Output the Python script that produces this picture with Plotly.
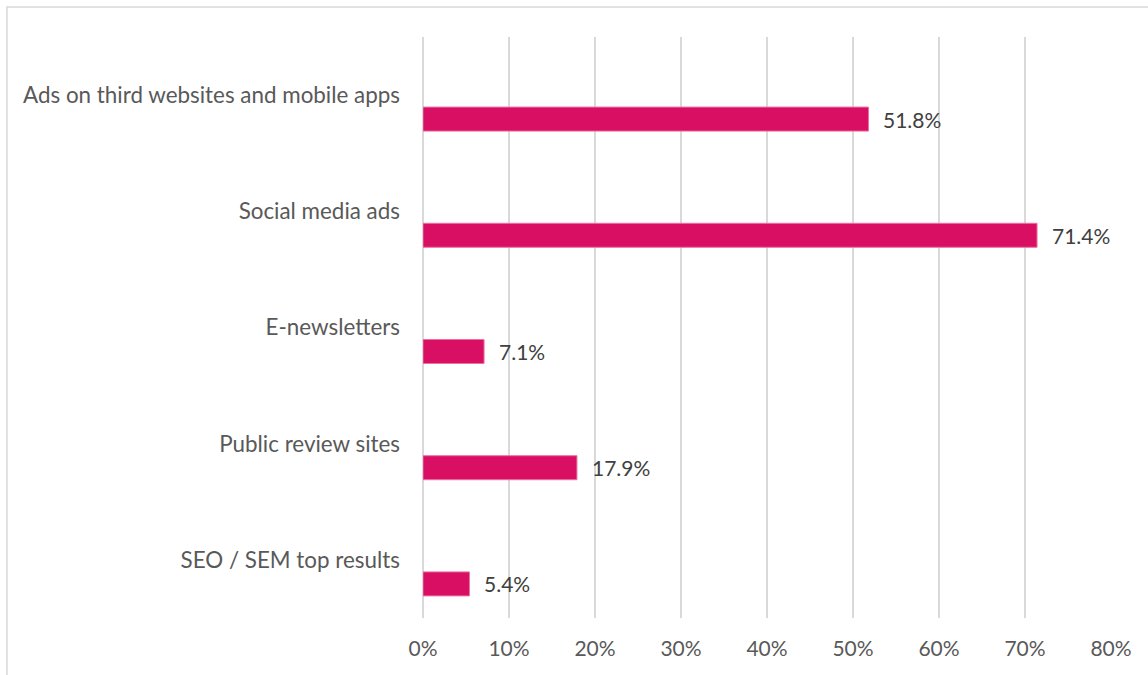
import plotly.graph_objects as go

# Channels and share of respondents
categories = [
    "Ads on third websites and mobile apps",
    "Social media ads",
    "E-newsletters",
    "Public review sites",
    "SEO / SEM top results",
]
shares = [0.518, 0.714, 0.071, 0.179, 0.054]
x_ticks = [0, 0.1, 0.2, 0.3, 0.4, 0.5, 0.6, 0.7, 0.8]
x_tick_labels = ["0%", "10%", "20%", "30%", "40%", "50%", "60%", "70%", "80%"]

BAR_COLOR = "#D80F63"
GRID = "#D9D9D9"
FONT = "Lato"
SIZE = 22.4

# bars sit just below each category centre (clustered-bar look)
bar_width = 0.2065
bar_pos = [i + bar_width for i in range(len(categories))]

fig = go.Figure()
fig.add_trace(go.Bar(
    x=shares,
    y=bar_pos,
    orientation="h",
    width=bar_width,
    marker=dict(color=BAR_COLOR, line=dict(color="#EE6FA0", width=1)),
    hoverinfo="skip",
))

for v, p in zip(shares, bar_pos):
    fig.add_annotation(
        x=v, y=p, xref="x", yref="y",
        text=f"{v * 100:.1f}%",
        showarrow=False, xanchor="left", yanchor="middle", xshift=13,
        font=dict(family=FONT, size=21, color="#404040"),
    )

# outer frame of the chart area
fig.add_shape(
    type="rect", xref="paper", yref="paper",
    x0=-0.6047, x1=1.2, y0=-0.3, y1=1.0516,
    line=dict(color=GRID, width=1.5), fillcolor="rgba(0,0,0,0)", layer="below",
)

fig.update_layout(
    width=1148, height=675,
    margin=dict(l=423, r=37, t=37, b=57),
    paper_bgcolor="white", plot_bgcolor="white",
    showlegend=False,
    font=dict(family=FONT, size=SIZE, color="#595959"),
    xaxis=dict(
        range=[0, 0.8],
        tickvals=x_ticks, ticktext=x_tick_labels,
        showgrid=True, gridcolor=GRID, gridwidth=1.5,
        zeroline=True, zerolinecolor=GRID, zerolinewidth=1.5,
        showline=False,
        ticks="", ticklabelstandoff=16,
        tickfont=dict(family=FONT, size=21, color="#595959"),
    ),
    yaxis=dict(
        range=[4.5, -0.5],
        tickvals=list(range(len(categories))), ticktext=categories,
        showgrid=False, zeroline=False, showline=False,
        ticks="", ticklabelstandoff=22,
        tickfont=dict(family=FONT, size=SIZE, color="#595959"),
    ),
)

fig.write_html("out.html")
